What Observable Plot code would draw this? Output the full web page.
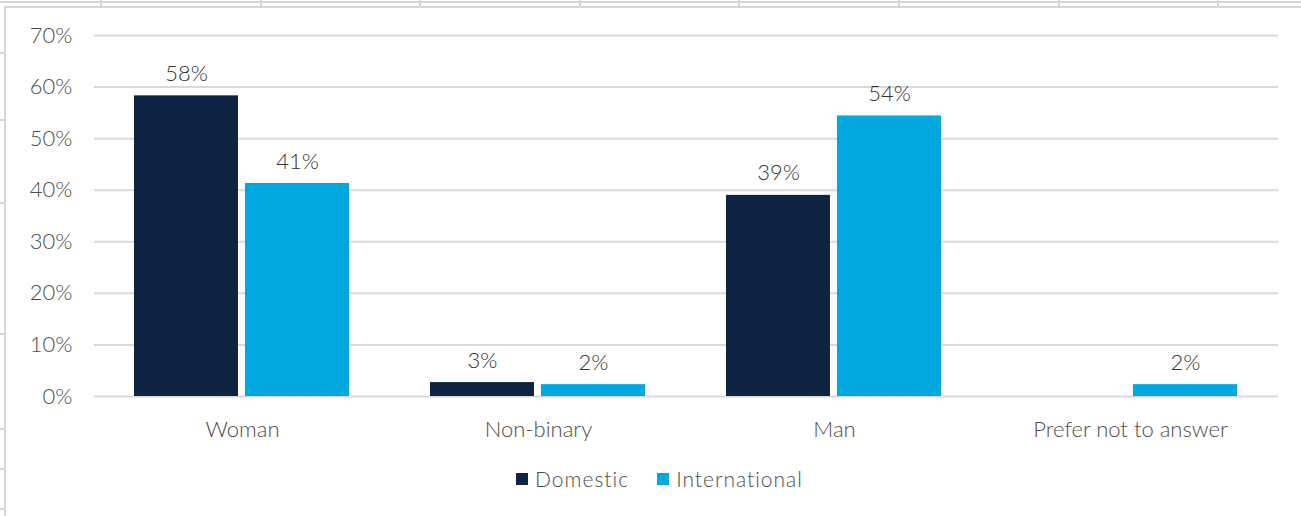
<!DOCTYPE html>
<html>
<head>
<meta charset="utf-8">
<script src="https://cdn.jsdelivr.net/npm/d3@7"></script>
<script src="https://cdn.jsdelivr.net/npm/@observablehq/plot@0.6"></script>
<style>
  html, body { margin: 0; padding: 0; background: #fff; }
  #wrap { position: relative; width: 1301px; height: 516px; overflow: hidden; font-family: Lato, "Open Sans", sans-serif; font-weight: 300; color: #4d4d4d; }
  #chart { position: absolute; left: 0; top: 0; }
  .sheet { position: absolute; background: #d6d6d6; }
  #legend { position: absolute; top: 466px; left: 0; width: 1301px; display: flex; justify-content: center; gap: 28px; font-size: 21px; letter-spacing: 1px; padding-left: 18px; box-sizing: border-box; }
  #legend span.item { display: inline-flex; align-items: center; }
  #legend span.sw { display: inline-block; width: 12px; height: 12px; margin-right: 7px; }
</style>
</head>
<body>
<div id="wrap">
  <div id="bg"></div>
  <div id="chart"></div>
  <div id="legend"></div>
</div>
<script>
const categories = ["Woman", "Non-binary", "Man", "Prefer not to answer"];
const series = ["Domestic", "International"];
const domesticValues = [58.3, 2.7, 39.0, 0];
const internationalValues = [41.3, 2.3, 54.4, 2.3];
const yTicks = [0, 10, 20, 30, 40, 50, 60, 70];
const colors = ["#0f2343", "#00a8e0"];

const data = [];
categories.forEach((c, i) => {
  data.push({category: c, series: "Domestic", value: domesticValues[i]});
  data.push({category: c, series: "International", value: internationalValues[i]});
});

// spreadsheet background decoration
const bg = document.getElementById("bg");
function addLine(l, t, w, h) {
  const d = document.createElement("div");
  d.className = "sheet";
  Object.assign(d.style, {left: l + "px", top: t + "px", width: w + "px", height: h + "px"});
  bg.appendChild(d);
}
addLine(0, 1, 1301, 2);
for (let k = 0; k < 8; k++) addLine(Math.round(100 + 159.6 * k), 0, 2, 6);
addLine(4, 6, 1297, 2);
addLine(4, 6, 2, 510);
[52, 119, 202, 333, 428, 468, 508].forEach(y => addLine(0, y, 4, 2));

const chart = Plot.plot({
  width: 1301,
  height: 460,
  marginLeft: 94,
  marginRight: 23,
  marginTop: 35,
  marginBottom: 64,
  style: {fontFamily: "Lato, 'Open Sans', sans-serif", fontWeight: 300, fontSize: "22px", color: "#4d4d4d", background: "transparent", overflow: "visible"},
  fx: {domain: categories, padding: 0, label: null},
  x: {domain: series, paddingInner: 0.0625, paddingOuter: 0.353, axis: null},
  y: {domain: [0, 70], label: null},
  color: {domain: series, range: colors},
  marks: [
    Plot.ruleY(yTicks, {stroke: "#d9d9d9", strokeWidth: 2}),
    Plot.axisY({ticks: yTicks, tickFormat: d => d + "%", tickSize: 0, tickPadding: 22, label: null, fill: "#4d4d4d", fontSize: 22, style: {letterSpacing: "3px"}}),
    Plot.axisFx({anchor: "bottom", tickSize: 0, tickPadding: 25, label: null, fill: "#4d4d4d", fontSize: 22, style: {letterSpacing: "1px"}}),
    Plot.barY(data, {fx: "category", x: "series", y: "value", fill: "series"}),
    Plot.text(data.filter(d => d.value > 0), {fx: "category", x: "series", y: "value", text: d => Math.round(d.value) + "%", lineAnchor: "bottom", dy: -15, fill: "#333333", fontSize: 22, style: {letterSpacing: "1.5px"}})
  ]
});
document.getElementById("chart").appendChild(chart);

const legend = document.getElementById("legend");
series.forEach((s, i) => {
  const item = document.createElement("span");
  item.className = "item";
  const sw = document.createElement("span");
  sw.className = "sw";
  sw.style.background = colors[i];
  item.appendChild(sw);
  item.appendChild(document.createTextNode(s));
  legend.appendChild(item);
});
</script>
</body>
</html>
